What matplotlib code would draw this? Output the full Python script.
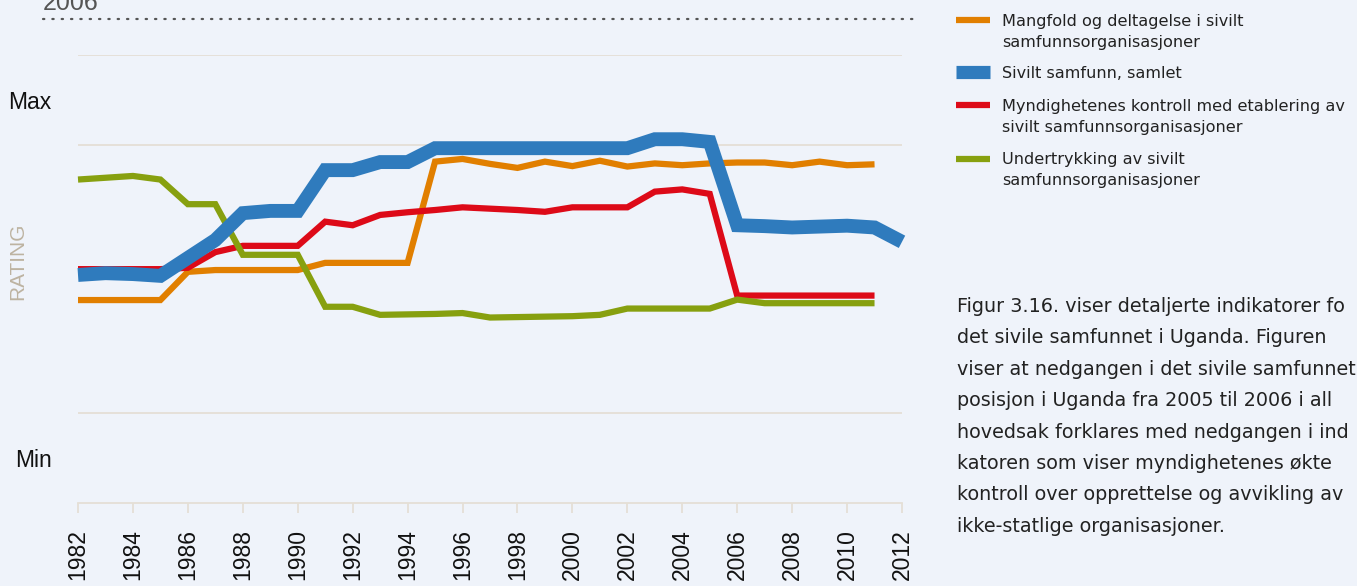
import numpy as np
import matplotlib.pyplot as plt
from matplotlib.lines import Line2D

# Data (rating scale 0-10; Min ~ 1, Max ~ 9)
years = list(range(1982, 2013))

mangfold = [4.53, 4.53, 4.53, 4.53, 5.16, 5.2, 5.2, 5.2, 5.2, 5.36,
            5.36, 5.36, 5.36, 7.62, 7.68, 7.57, 7.48, 7.62, 7.52, 7.64,
            7.51, 7.58, 7.54, 7.58, 7.6, 7.6, 7.54, 7.62, 7.54, 7.56, None]

samlet = [5.09, 5.13, 5.11, 5.07, 5.47, 5.87, 6.47, 6.52, 6.52, 7.43,
          7.43, 7.61, 7.61, 7.92, 7.92, 7.92, 7.92, 7.92, 7.92, 7.92,
          7.92, 8.12, 8.12, 8.06, 6.2, 6.18, 6.15, 6.17, 6.19, 6.15, 5.83]

kontroll = [5.22, 5.22, 5.22, 5.22, 5.25, 5.6, 5.74, 5.74, 5.74, 6.28,
            6.2, 6.43, 6.49, 6.54, 6.6, 6.57, 6.54, 6.5, 6.6, 6.6,
            6.6, 6.95, 7.0, 6.9, 4.63, 4.63, 4.63, 4.63, 4.63, 4.63, None]

undertrykking = [7.22, 7.26, 7.3, 7.22, 6.67, 6.67, 5.54, 5.54, 5.54, 4.38,
                 4.38, 4.2, 4.21, 4.22, 4.24, 4.14, 4.15, 4.16, 4.17, 4.2,
                 4.34, 4.34, 4.34, 4.34, 4.54, 4.46, 4.46, 4.46, 4.46, 4.46, None]

series_names = ['Mangfold og deltagelse i sivilt\nsamfunnsorganisasjoner',
                'Sivilt samfunn, samlet',
                'Myndighetenes kontroll med etablering av\nsivilt samfunnsorganisasjoner',
                'Undertrykking av sivilt\nsamfunnsorganisasjoner']
series_data = [mangfold, samlet, kontroll, undertrykking]
series_colors = ['#e17f00', '#2f7bbd', '#dd0a18', '#87a00f']
series_widths = [4.5, 10, 4.5, 4.5]
handle_widths = [4.5, 9.5, 4.5, 4.5]

grid_levels = [2, 8, 10]
tick_years = list(range(1982, 2013, 2))

# caption as visible in the picture (its right edge is cut by the frame)
caption = ['Figur 3.16. viser detaljerte indikatorer fo',
           'det sivile samfunnet i Uganda. Figuren',
           'viser at nedgangen i det sivile samfunnet',
           'posisjon i Uganda fra 2005 til 2006 i all',
           'hovedsak forklares med nedgangen i ind',
           'katoren som viser myndighetenes økte',
           'kontroll over opprettelse og avvikling av',
           'ikke-statlige organisasjoner.']

BG = '#eff3fa'
GRID = '#e4dfd6'
TEXT_FONT = ['DejaVu Sans']

plt.rcParams['font.family'] = ['Liberation Sans', 'DejaVu Sans']

W, H = 1357, 586
fig = plt.figure(figsize=(W / 100, H / 100), dpi=100, facecolor=BG)
ax = fig.add_axes([78 / W, 1 - 503 / H, 824 / W, 448 / H])
ax.set_facecolor(BG)

for lvl in grid_levels:
    ax.axhline(lvl, color=GRID, lw=1.3, zorder=1)

# draw order: orange, red, green below, blue on top
order = [0, 2, 3, 1]
for i in order:
    vals = np.array([np.nan if v is None else v for v in series_data[i]], dtype=float)
    ax.plot(years, vals, color=series_colors[i], lw=series_widths[i],
            solid_capstyle='butt', solid_joinstyle='miter', zorder=3, clip_on=False)

ax.set_xlim(1982, 2012)
ax.set_ylim(0, 10)
for s in ['top', 'right', 'left']:
    ax.spines[s].set_visible(False)
ax.spines['bottom'].set_color(GRID)
ax.spines['bottom'].set_linewidth(1.3)

ax.set_xticks(tick_years)
ax.set_xticklabels([str(y) for y in tick_years], rotation=90, fontsize=16.5, va='top')
ax.tick_params(axis='x', length=7, width=1.3, color=GRID, pad=12, labelcolor='#111111')

ax.set_yticks([9, 1])
ax.set_yticklabels(['Max', 'Min'], fontsize=16.5)
ax.tick_params(axis='y', length=0, pad=19, labelcolor='#111111')

ax.set_ylabel('RATING', color='#bdb3a1', fontsize=15)
ax.yaxis.set_label_coords(-51 / 824, 0.539)

# cut-off title fragment and dotted rule at the top
fig.text(43 / W, 1 - 10 / H, '2006', fontsize=18, color='#555555', va='baseline')
fig.add_artist(Line2D([43 / W, 918 / W], [1 - 19 / H, 1 - 19 / H],
                      transform=fig.transFigure, color='#555555', lw=1.6,
                      dashes=(0.6, 3.6), dash_capstyle='round'))

# legend (handles left-aligned with the caption text)
legend_handle_y = [20, 72, 105, 159]
legend_base_y = [26, 78, 111, 164]
for name, col, lw, hy, by in zip(series_names, series_colors, handle_widths,
                                 legend_handle_y, legend_base_y):
    fig.add_artist(Line2D([956 / W, 990 / W], [1 - hy / H, 1 - hy / H],
                          transform=fig.transFigure, color=col, lw=lw,
                          solid_capstyle='butt'))
    for j, part in enumerate(name.split('\n')):
        fig.text(1002 / W, 1 - (by + 21 * j) / H, part, fontsize=11.6,
                 color='#222222', va='baseline', family=TEXT_FONT)

# caption text
for k, line in enumerate(caption):
    fig.text(957 / W, 1 - (312 + 31.4 * k) / H, line, fontsize=13.8,
             color='#222222', va='baseline', family=TEXT_FONT)

fig.savefig('out.png', dpi=100, facecolor=BG)
